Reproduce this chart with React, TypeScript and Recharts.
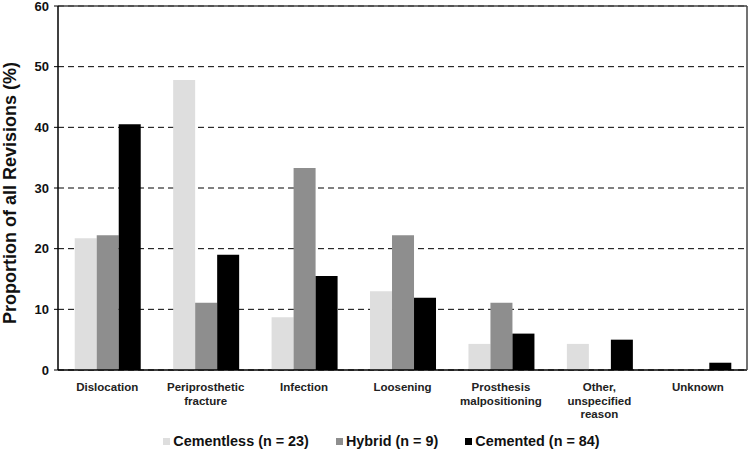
import React from "react";
import {
  BarChart,
  Bar,
  XAxis,
  YAxis,
  CartesianGrid,
  Legend,
  ReferenceLine,
} from "recharts";

const categories = [
  "Dislocation",
  "Periprosthetic\nfracture",
  "Infection",
  "Loosening",
  "Prosthesis\nmalpositioning",
  "Other,\nunspecified\nreason",
  "Unknown",
];
const cementless = [21.7, 47.8, 8.7, 13.0, 4.3, 4.3, 0];
const hybrid = [22.2, 11.1, 33.3, 22.2, 11.1, 0, 0];
const cemented = [40.5, 19.0, 15.5, 11.9, 6.0, 5.0, 1.2];
const yTicks = [0, 10, 20, 30, 40, 50, 60];
const boundaryTicks = [1, 2, 3, 4, 5, 6, 7];
const seriesNames = ["Cementless (n = 23)", "Hybrid (n = 9)", "Cemented (n = 84)"];
const seriesColors = ["#dedede", "#8e8e8e", "#000000"];

const data = categories.map((name, i) => ({
  name,
  cementless: cementless[i],
  hybrid: hybrid[i],
  cemented: cemented[i],
}));

const FONT = "'Liberation Sans', Arial, Helvetica, sans-serif";

const CategoryTick = (props: any) => {
  const { x, y, payload } = props;
  const lines = String(payload.value).split("\n");
  return (
    <text
      x={x}
      y={y + 20}
      textAnchor="middle"
      fontFamily={FONT}
      fontSize={11.5}
      fontWeight="bold"
      fill="#222"
    >
      {lines.map((l, i) => (
        <tspan key={i} x={x} dy={i === 0 ? 0 : 13.7}>
          {l}
        </tspan>
      ))}
    </text>
  );
};

const YLabel = (props: any) => {
  const { viewBox } = props;
  const cx = 16;
  const cy = viewBox.y + viewBox.height / 2 + 5;
  return (
    <text
      x={cx}
      y={cy}
      transform={`rotate(-90, ${cx}, ${cy})`}
      textAnchor="middle"
      fontFamily={FONT}
      fontSize={18}
      fontWeight="bold"
      fill="#111"
    >
      Proportion of all Revisions (%)
    </text>
  );
};

const LegendContent = () => (
  <div
    style={{
      display: "flex",
      justifyContent: "center",
      alignItems: "center",
      height: 22,
      paddingLeft: 13,
      fontFamily: FONT,
      fontSize: 14.4,
      fontWeight: "bold",
      color: "#111",
    }}
  >
    {seriesNames.map((n, i) => (
      <div
        key={n}
        style={{
          display: "flex",
          alignItems: "center",
          marginRight: i < seriesNames.length - 1 ? 27 : 0,
        }}
      >
        <span
          style={{
            display: "inline-block",
            width: 7,
            height: 7,
            background: seriesColors[i],
            marginRight: 3,
          }}
        />
        <span>{n}</span>
      </div>
    ))}
  </div>
);

export default function App() {
  return (
    <div style={{ position: "absolute", left: 0, top: 0, background: "#fff" }}>
      <BarChart
        width={750}
        height={452}
        data={data}
        margin={{ top: 6, right: 1, bottom: 0, left: 0 }}
        barCategoryGap="17%"
        barGap={0}
      >
        <CartesianGrid
          vertical={false}
          stroke="#000"
          strokeDasharray="6 4"
          strokeWidth={1}
        />
        <XAxis
          xAxisId="bounds"
          type="number"
          domain={[0, 7]}
          ticks={boundaryTicks}
          tick={false}
          tickSize={4}
          tickLine={{ stroke: "#000" }}
          axisLine={{ stroke: "#000", strokeWidth: 1.5 }}
          height={1}
          allowDataOverflow
        />
        <XAxis
          xAxisId="main"
          dataKey="name"
          interval={0}
          tickLine={false}
          axisLine={false}
          tickSize={0}
          tickMargin={0}
          height={59}
          tick={<CategoryTick />}
        />
        <YAxis
          domain={[0, 60]}
          ticks={yTicks}
          interval={0}
          width={58}
          tickSize={4}
          tickMargin={5}
          tickLine={{ stroke: "#000" }}
          axisLine={{ stroke: "#000", strokeWidth: 1.5 }}
          tick={{ fontFamily: FONT, fontSize: 13, fontWeight: "bold", fill: "#111" }}
          label={<YLabel />}
        />
        <YAxis
          yAxisId="r"
          orientation="right"
          domain={[0, 60]}
          width={2}
          tick={false}
          tickLine={false}
          axisLine={{ stroke: "#444", strokeWidth: 1.5 }}
        />
        <ReferenceLine y={60} stroke="#444" strokeWidth={1.5} />
        <Legend
          verticalAlign="bottom"
          content={<LegendContent />}
          wrapperStyle={{ left: 0, width: 750 }}
        />
        <Bar xAxisId="main" dataKey="cementless" name={seriesNames[0]} fill={seriesColors[0]} isAnimationActive={false} />
        <Bar xAxisId="main" dataKey="hybrid" name={seriesNames[1]} fill={seriesColors[1]} isAnimationActive={false} />
        <Bar xAxisId="main" dataKey="cemented" name={seriesNames[2]} fill={seriesColors[2]} isAnimationActive={false} />
      </BarChart>
    </div>
  );
}
